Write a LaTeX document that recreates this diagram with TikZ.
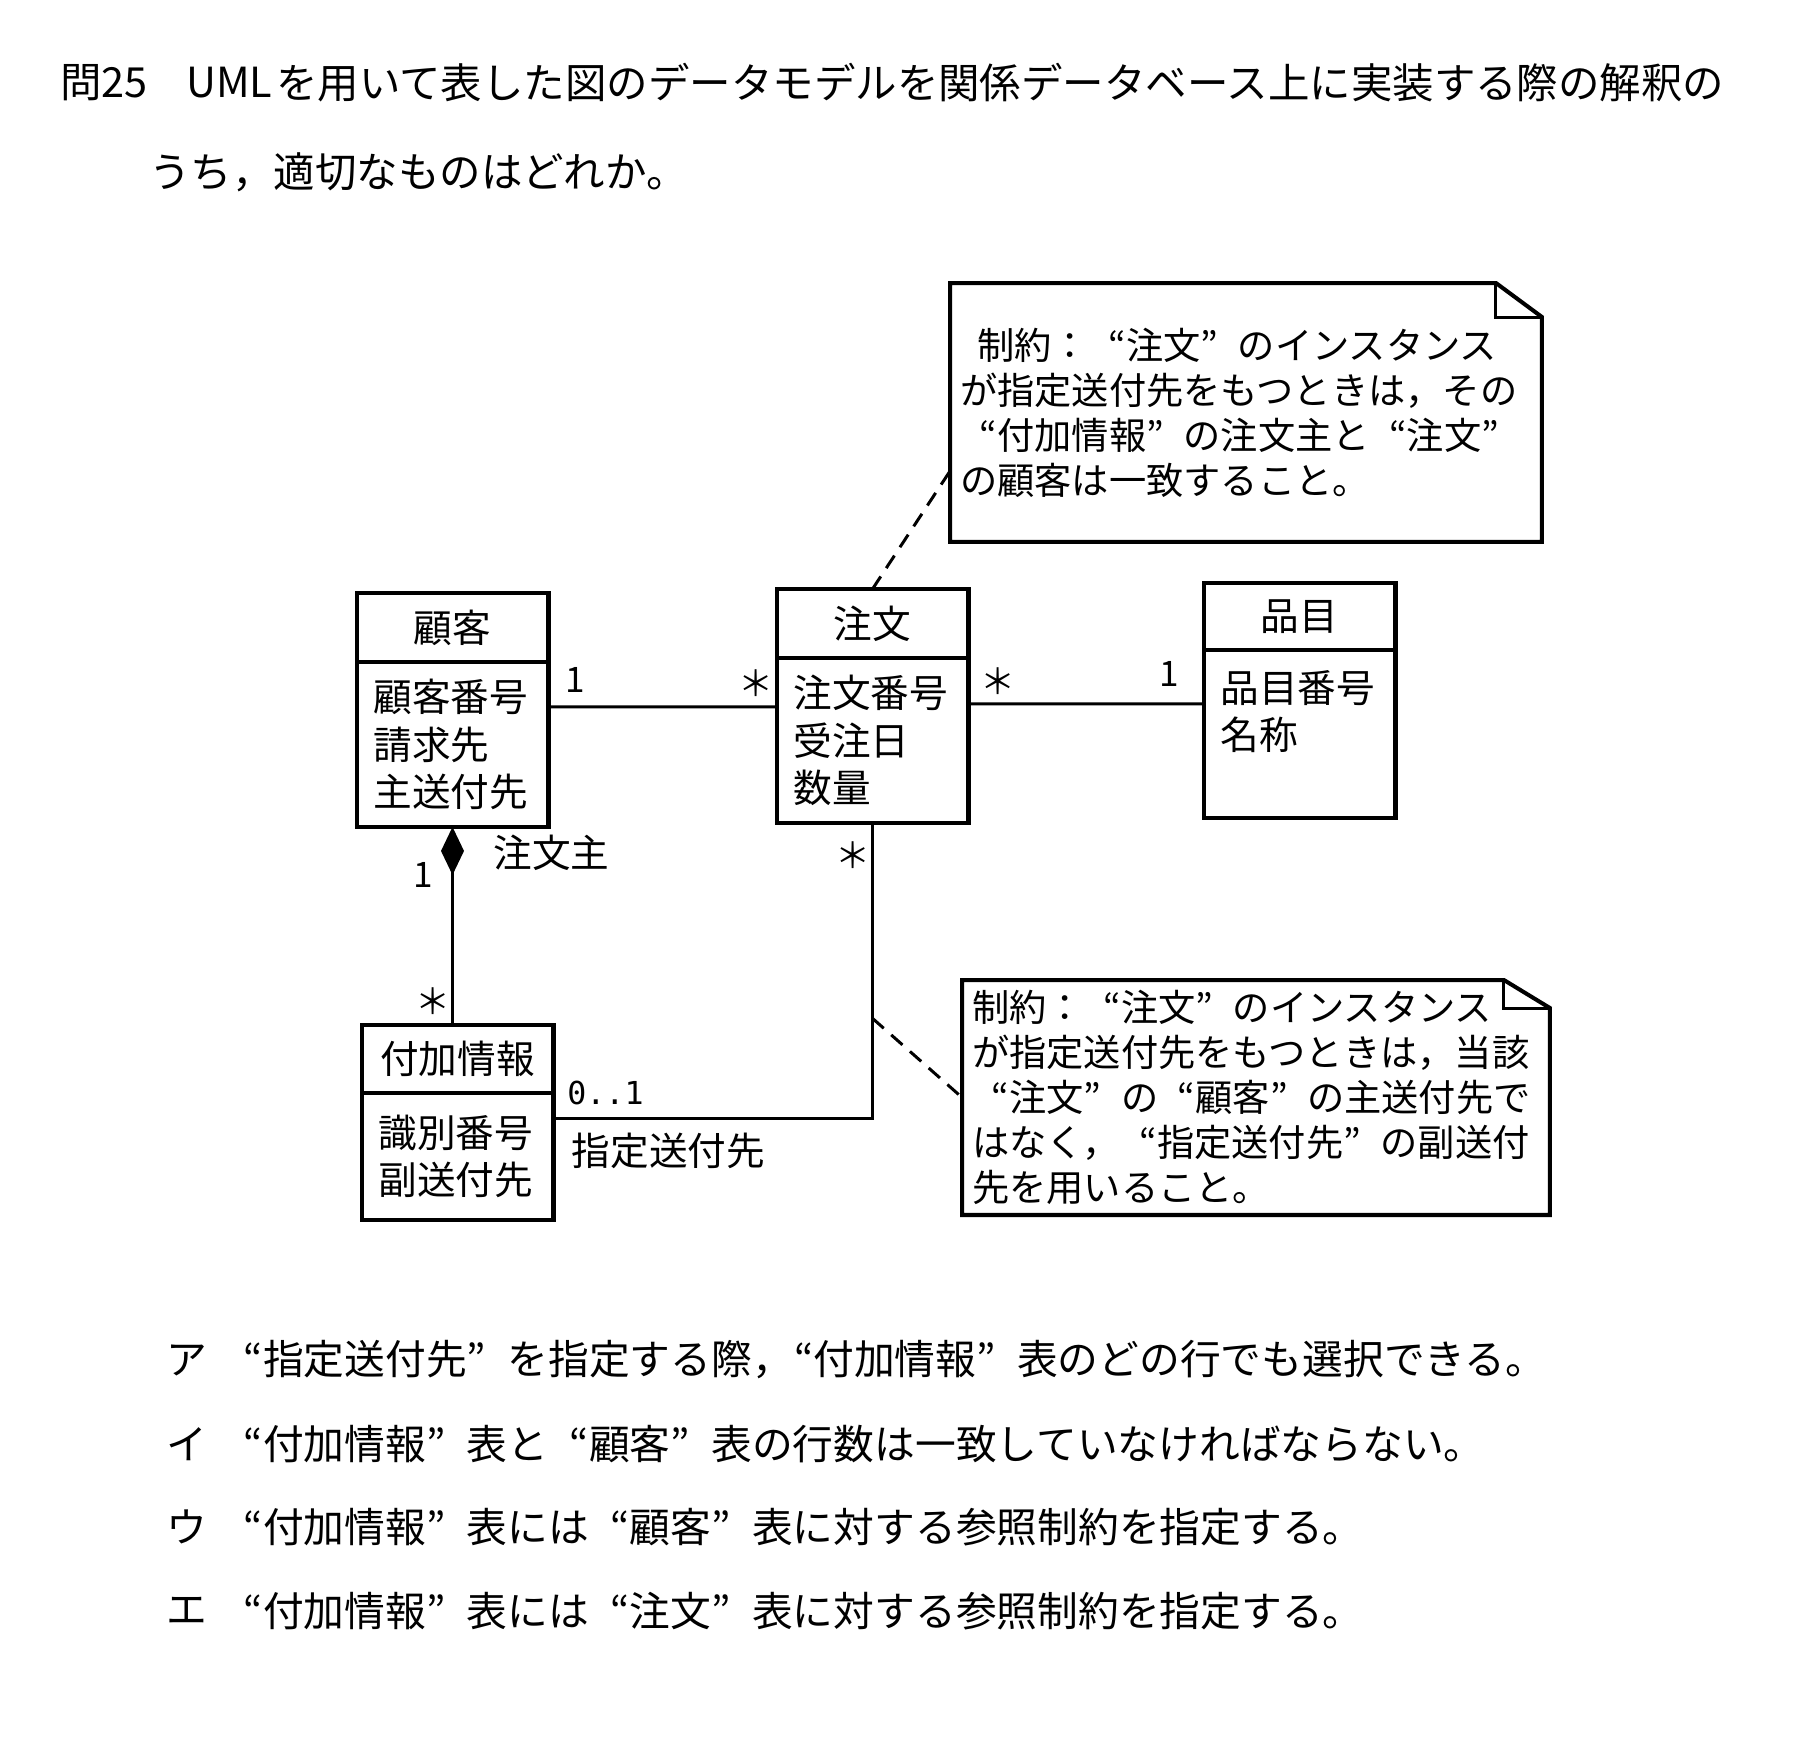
\documentclass[tikz,border=0pt]{standalone}
\usepackage{fontspec}
\setmainfont{Noto Sans CJK JP}
\newfontfamily\multfont{DejaVu Sans Mono}
\usetikzlibrary{positioning,arrows.meta}

\newcommand{\jlq}{\makebox[1em][r]{“}}
\newcommand{\jrq}{\makebox[1em][l]{”}}

\tikzstyle{classhead}=[rectangle,
    draw,
    line width=2.3pt,
    outer sep=0pt,
    minimum width=3.84cm,
    font=\fontsize{22}{27}\selectfont]
\tikzstyle{classbody}=[rectangle,
    draw,
    line width=2.3pt,
    outer sep=0pt,
    minimum width=3.84cm,
    text width=3.16cm,
    inner xsep=0.34cm,
    align=left,
    font=\fontsize{22}{27.2}\selectfont]
\tikzstyle{note}=[rectangle,
    outer sep=0pt,
    inner xsep=0.2cm,
    align=left,
    font=\fontsize{21.2}{25.6}\selectfont]
\tikzstyle{question}=[anchor=west, inner sep=0pt, font=\fontsize{23.6}{28}\selectfont]
\tikzstyle{answer}=[anchor=west, inner sep=0pt, font=\fontsize{23.2}{28}\selectfont]
\tikzstyle{mult}=[inner sep=0pt, font=\fontsize{20}{24}\selectfont]
\tikzstyle{link}=[line width=1.7pt]

\begin{document}
\begin{tikzpicture}[x=0.02cm, y=-0.02cm]
    \useasboundingbox (0,0) rectangle (1800,1757);

    % question
    \node (qno) [question] at (60,83) {問25};
    \node (quml) [question] at (186,83) {UML};
    \node (qline1) [question] at (276,83) {を用いて表した図のデータモデルを関係データベース上に実装する際の解釈の};
    \node (qline2) [question] at (149,172) {うち，適切なものはどれか。};

    % classes
    \node (kokyaku) [classhead, minimum height=1.38cm] at (452.5,627.5) {顧客};
    \node (kokyaku-attr) [classbody, minimum height=3.3cm, below=0pt of kokyaku] {顧客番号\\請求先\\主送付先};
    \node (chumon) [classhead, minimum height=1.38cm] at (872.5,623.5) {注文};
    \node (chumon-attr) [classbody, minimum height=3.3cm, below=0pt of chumon] {注文番号\\受注日\\数量};
    \node (hinmoku) [classhead, minimum height=1.34cm] at (1299.5,616.5) {品目};
    \node (hinmoku-attr) [classbody, minimum height=3.36cm, below=0pt of hinmoku] {品目番号\\名称\\~};
    \node (fuka) [classhead, minimum height=1.36cm] at (457.5,1059) {付加情報};
    \node (fuka-attr) [classbody, minimum height=2.54cm, below=0pt of fuka] {識別番号\\副送付先};

    % notes
    \node (note1) [note, minimum width=11.84cm, minimum height=5.18cm, text width=11.44cm] at (1246,412.5)
        {\hspace{0.34cm}制約：\jlq 注文\jrq のインスタンス\\が指定送付先をもつときは，その\\\jlq 付加情報\jrq の注文主と\jlq 注文\jrq\\の顧客は一致すること。};
    \node (note2) [note, minimum width=11.76cm, minimum height=4.7cm, text width=11.36cm, inner xsep=0.16cm] at (1256,1097.5)
        {制約：\jlq 注文\jrq のインスタンス\\が指定送付先をもつときは，当該\\\jlq 注文\jrq の\jlq 顧客\jrq の主送付先で\\はなく，\jlq 指定送付先\jrq の副送付\\先を用いること。};
    \foreach \n/\fx/\fy in {note1/0.92cm/0.68cm, note2/0.92cm/0.56cm} {
        \draw [line width=2.3pt] (\n.north west) -- ([xshift=-\fx]\n.north east)
            -- ([yshift=-\fy]\n.north east) -- (\n.south east) -- (\n.south west) -- cycle;
        \draw [line width=1.7pt] ([xshift=-\fx]\n.north east) |- ([yshift=-\fy]\n.north east);
    }

    % associations
    \draw [link] ([yshift=0.75cm]kokyaku-attr.east)
        -- node (m-kc) [mult, at start, xshift=0.54cm, yshift=0.54cm] {1}
           node (m-ck) [mult, at end, xshift=-0.4cm, yshift=0.48cm] {＊}
        ([yshift=0.67cm]chumon-attr.west);
    \draw [link] ([yshift=0.73cm]chumon-attr.east)
        -- node (m-ch) [mult, at start, xshift=0.6cm, yshift=0.46cm] {＊}
           node (m-hc) [mult, at end, xshift=-0.68cm, yshift=0.6cm] {1}
        ([yshift=0.6cm]hinmoku-attr.west);
    \draw [link, {Diamond[length=0.96cm, width=0.46cm]}-] (kokyaku-attr.south)
        -- node (r-owner) [mult, at start, anchor=center, xshift=1.98cm, yshift=-0.52cm, font=\fontsize{22}{26}\selectfont] {注文主}
           node (m-kf) [mult, at start, xshift=-0.58cm, yshift=-0.96cm] {1}
           node (m-fk) [mult, at end, xshift=-0.38cm, yshift=0.48cm] {＊}
        (kokyaku-attr.south |- fuka.north);
    \draw [link] (chumon-attr.south)
        |- coordinate[pos=0.33] (bend)
           node (m-cf) [mult, at start, xshift=-0.39cm, yshift=-0.64cm] {＊}
           node (m-fc) [mult, at end, xshift=1.04cm, yshift=0.52cm, font=\multfont\fontsize{18}{22}\selectfont] {0..1}
           node (r-dest) [mult, at end, xshift=2.3cm, yshift=-0.64cm, font=\fontsize{22}{26}\selectfont] {指定送付先}
        ([yshift=0.75cm]fuka-attr.east);

    % constraints
    \draw [link, dash pattern=on 0.3cm off 0.2cm] (chumon.north) -- ([yshift=-1.17cm]note1.west);
    \draw [link, dash pattern=on 0.3cm off 0.2cm] (bend) -- (note2.west);

    % choices
    \foreach \y/\lab/\txt [count=\i] in {1360/ア/\jlq 指定送付先\jrq を指定する際\makebox[0.5em][l]{，}\jlq 付加情報\jrq 表のどの行でも選択できる。,
        1444/イ/\jlq 付加情報\jrq 表と\jlq 顧客\jrq 表の行数は一致していなければならない。,
        1527/ウ/\jlq 付加情報\jrq 表には\jlq 顧客\jrq 表に対する参照制約を指定する。,
        1611/エ/\jlq 付加情報\jrq 表には\jlq 注文\jrq 表に対する参照制約を指定する。} {
        \node (optlab-\i) [answer] at (166,\y) {\lab};
        \node (opt-\i) [answer] at (222,\y) {\txt};
    }
\end{tikzpicture}
\end{document}
